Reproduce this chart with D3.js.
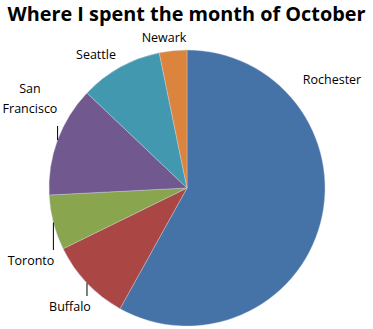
<!DOCTYPE html>
<html>
<head>
<meta charset="utf-8">
<script src="https://cdn.jsdelivr.net/npm/d3@7"></script>
<style>
  body { margin: 0; background: #fff; }
  svg { display: block; font-family: "Open Sans", sans-serif; }
</style>
</head>
<body>
<div id="chart"></div>
<script>
// days spent in each city, October (31 days)
const cities = ["Rochester", "Buffalo", "Toronto", "San Francisco", "Seattle", "Newark"];
const days = [18, 3, 2, 4, 3, 1];
const colors = ["#4572A7", "#AA4643", "#89A54E", "#71588F", "#4198AF", "#DB843D"];

const W = 373, H = 329;
const cx = 187, cy = 188, R = 138;

// where the label text sits (x, y of text centre) and whether it has a leader line
const labelAt = {
  "Rochester":     { x: 332, y: 79 },
  "Buffalo":       { x: 70,  y: 306, leader: true },
  "Toronto":       { x: 31,  y: 260, leader: true },
  "San Francisco": { x: 30,  y: 98,  leader: true },
  "Seattle":       { x: 96,  y: 54 },
  "Newark":        { x: 164, y: 37 }
};

const svg = d3.select('#chart')
  .append('svg')
  .attr('width', W)
  .attr('height', H);

svg.append('text')
  .attr('x', W / 2)
  .attr('y', 20.8)
  .attr('text-anchor', 'middle')
  .attr('font-size', 19)
  .attr('font-weight', 'bold')
  .attr('textLength', 358)
  .attr('lengthAdjust', 'spacingAndGlyphs')
  .text('Where I spent the month of October');

const pie = d3.pie().sort(null).value(d => d.days);
const arc = d3.arc().innerRadius(0).outerRadius(R);
const edge = d3.arc().innerRadius(R).outerRadius(R);

const slices = pie(cities.map((c, i) => ({ city: c, days: days[i], color: colors[i] })));

const g = svg.append('g').attr('transform', `translate(${cx},${cy})`);

g.selectAll('path')
  .data(slices)
  .enter()
  .append('path')
  .attr('d', arc)
  .attr('fill', d => d.data.color)
  .attr('stroke', '#c9d3e0')
  .attr('stroke-width', 0.4);

// labels
const lab = svg.append('g').attr('font-size', 12.5).attr('fill', '#000');

slices.forEach(d => {
  const p = labelAt[d.data.city];
  const lines = d.data.city === "San Francisco" ? ["San", "Francisco"] : [d.data.city];
  const t = lab.append('text')
    .attr('text-anchor', 'middle')
    .attr('x', p.x)
    .attr('y', p.y + 4.5 - (lines.length - 1) * 10);
  lines.forEach((l, i) => {
    t.append('tspan').attr('x', p.x).attr('dy', i ? 20 : 0).text(l);
  });

  if (p.leader) {
    const e = edge.centroid(d);
    const ex = cx + e[0], ey = cy + e[1];
    // line runs straight up/down from the slice edge to just short of the text
    const half = (lines.length - 1) * 10;
    const ty = ey < p.y ? p.y - half - 10 : p.y + half + 18;
    svg.append('line')
      .attr('x1', ex).attr('y1', ey)
      .attr('x2', ex).attr('y2', ty)
      .attr('stroke', '#000')
      .attr('stroke-width', 1);
  }
});
</script>
</body>
</html>
